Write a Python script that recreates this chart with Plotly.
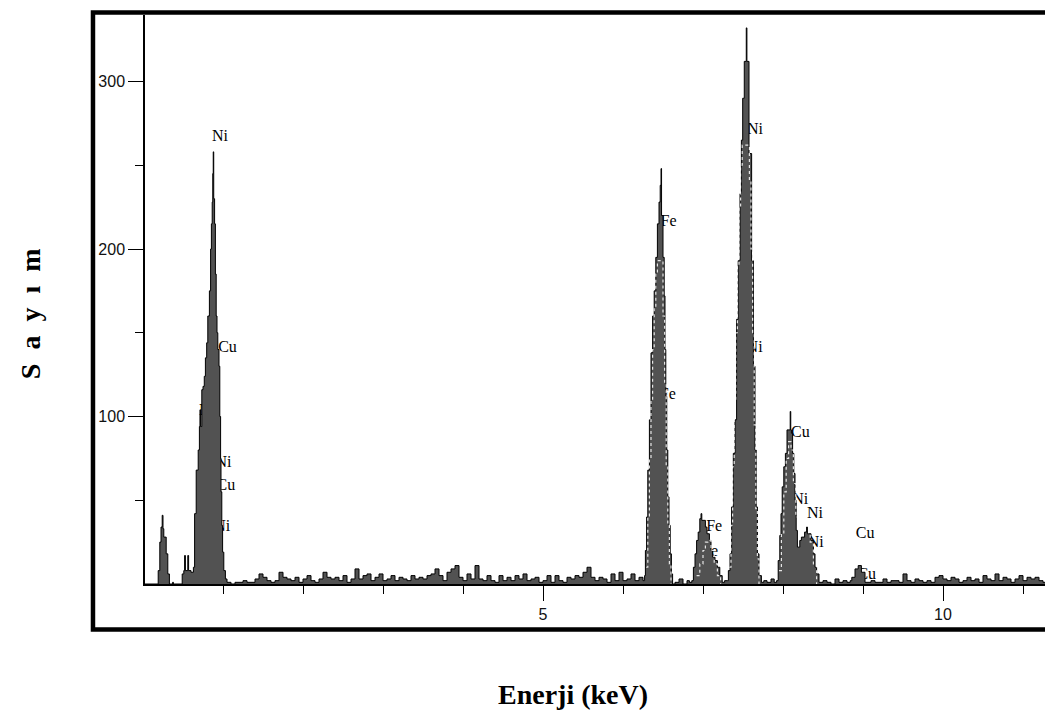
import plotly.graph_objects as go

# ---------------- data ----------------
# low-energy region: C peak + Ni L / Cu L peak  (energy keV, counts) step breakpoints
low_E = [0.00, 0.19, 0.21, 0.225, 0.24, 0.25, 0.26, 0.29, 0.31, 0.33, 0.37, 0.38,
         0.49, 0.51, 0.52, 0.53, 0.56, 0.57, 0.60, 0.63, 0.645, 0.665, 0.69, 0.705,
         0.712, 0.72, 0.735, 0.75, 0.766, 0.78, 0.796, 0.81, 0.83, 0.845, 0.855,
         0.865, 0.872, 0.878, 0.884, 0.895, 0.905, 0.915, 0.925, 0.935, 0.95, 0.96,
         0.97, 0.975, 0.985, 0.995, 1.01, 1.03]
low_counts = [0, 8, 25, 34, 41, 33, 28, 18, 6, 0, 1, 0,
              6, 8, 17, 8, 17, 8, 7, 10, 42, 68, 80, 94,
              104, 94, 116, 118, 124, 135, 144, 160, 175, 200, 215,
              228, 245, 258, 230, 215, 185, 160, 150, 140, 130, 100,
              75, 55, 35, 19, 8, 3]

# background between 1.05 and 6.20 keV, channels of 0.05 keV
noise1_start = 1.05
noise1_step = 0.05
noise1_counts = [1, 0, 1, 1, 2, 1, 1, 3, 6, 4,      # 1.05 - 1.50
                 2, 1, 2, 7, 4, 3, 2, 4, 1, 3,      # 1.55 - 2.00
                 5, 2, 1, 3, 7, 4, 3, 4, 2, 5,      # 2.05 - 2.50
                 1, 3, 9, 3, 5, 6, 2, 4, 6, 2,      # 2.55 - 3.00
                 3, 5, 2, 4, 3, 2, 5, 3, 4, 3,      # 3.05 - 3.50
                 5, 6, 9, 5, 2, 7, 9, 11, 4, 2,     # 3.55 - 4.00
                 6, 3, 11, 3, 2, 5, 2, 1, 5, 2,     # 4.05 - 4.50
                 4, 2, 5, 3, 6, 2, 3, 4, 1, 2,      # 4.55 - 5.00
                 5, 1, 5, 2, 1, 4, 3, 5, 4, 7,      # 5.05 - 5.50
                 10, 4, 2, 4, 3, 1, 6, 2, 7, 2,     # 5.55 - 6.00
                 3, 6, 2, 4]                        # 6.05 - 6.20

# Fe K-alpha
fe_E = [6.25, 6.27, 6.28, 6.295, 6.31, 6.33, 6.35, 6.37, 6.39, 6.41, 6.43, 6.45,
        6.465, 6.475, 6.482, 6.50, 6.515, 6.525, 6.535, 6.547, 6.56, 6.575, 6.59,
        6.605, 6.62, 6.65, 6.70, 6.75, 6.80, 6.83]
fe_counts = [2, 5, 20, 40, 68, 98, 138, 160, 175, 195, 215, 228,
             238, 248, 220, 195, 172, 140, 112, 80, 52, 35, 18,
             6, 0, 1, 3, 0, 2, 1]

# Fe K-beta
fekb_E = [6.86, 6.88, 6.90, 6.92, 6.94, 6.96, 6.975, 6.985, 7.00, 7.03, 7.05, 7.08,
          7.10, 7.12, 7.15, 7.18, 7.21, 7.24, 7.27]
fekb_counts = [2, 10, 18, 26, 31, 39, 42, 38, 38, 34, 30, 26,
               20, 16, 14, 10, 5, 1, 2]

# Ni K-alpha
ni_E = [7.31, 7.317, 7.3375, 7.358, 7.379, 7.40, 7.42, 7.44, 7.4625, 7.48, 7.496,
        7.516, 7.541, 7.549, 7.575, 7.608, 7.63, 7.65, 7.665, 7.68, 7.70, 7.73,
        7.76, 7.80, 7.85, 7.89]
ni_counts = [2, 8, 18, 46, 78, 98, 158, 193, 233, 265, 290,
             312, 332, 312, 257, 193, 130, 80, 46, 18, 5, 1,
             2, 1, 3, 1]

# Cu K-alpha + Ni K-beta
cu_E = [7.92, 7.94, 7.96, 7.975, 7.99, 8.01, 8.03, 8.05, 8.09, 8.097, 8.105, 8.12,
        8.135, 8.15, 8.165, 8.18, 8.21, 8.23, 8.27, 8.295, 8.305, 8.32, 8.35, 8.38,
        8.40, 8.42, 8.45, 8.50, 8.55, 8.60, 8.65, 8.70, 8.75, 8.80]
cu_counts = [2, 14, 29, 42, 58, 70, 78, 92, 103, 92, 90, 78,
             66, 50, 32, 22, 26, 28, 31, 34, 30, 30, 26, 18,
             10, 6, 1, 2, 1, 0, 3, 1, 2, 1]

# Cu K-beta
cukb_E = [8.84, 8.86, 8.90, 8.94, 8.98, 9.025]
cukb_counts = [2, 4, 9, 11, 7, 1]

# background from 9.05 keV, channels of 0.05 keV
noise2_start = 9.05
noise2_step = 0.05
noise2_counts = [1, 2, 1, 1, 3, 1, 2, 2, 1, 6,
                 2, 1, 3, 2, 1, 2, 1, 4, 5, 3,
                 2, 4, 3, 1, 2, 4, 2, 3, 1, 5,
                 3, 2, 6, 2, 4, 3, 1, 3, 5, 2,
                 4, 3, 4, 2, 1, 3]

# white dotted overlay spectrum (second acquisition) seen inside the peaks
ovl_fe_E = [6.29, 6.31, 6.33, 6.35, 6.37, 6.39, 6.41, 6.43, 6.50, 6.52, 6.54, 6.56, 6.58, 6.60]
ovl_fe_counts = [10, 40, 75, 110, 140, 165, 185, 193, 160, 120, 70, 35, 12, 0]
ovl_fekb_E = [6.92, 6.96, 7.00, 7.03, 7.06, 7.10, 7.14, 7.18, 7.22]
ovl_fekb_counts = [5, 12, 20, 25, 26, 20, 12, 5, 0]
ovl_ni_E = [7.33, 7.35, 7.37, 7.39, 7.41, 7.43, 7.45, 7.47, 7.49, 7.58, 7.60, 7.62,
            7.64, 7.66, 7.68, 7.70]
ovl_ni_counts = [10, 35, 70, 110, 150, 190, 225, 250, 262, 240, 200, 150,
                 95, 45, 15, 0]
ovl_cu_E = [7.95, 7.98, 8.01, 8.04, 8.07, 8.10, 8.13, 8.16, 8.19, 8.22, 8.26, 8.30,
            8.34, 8.38, 8.42]
ovl_cu_counts = [8, 30, 55, 75, 85, 80, 60, 40, 35, 40, 40, 35, 25, 12, 0]

# element labels (text, energy of label's left side, count level)
label_text = ["Ni", "Cu", "Ni", "Cu", "Ni", "Ni", "Fe", "Fe", "Ni", "Ni",
              "Fe", "Fe", "Cu", "Ni", "Ni", "Ni", "Cu", "Cu"]
label_E = [0.8625, 0.94, 0.905, 0.92, 0.89, 0.70, 6.47, 6.46, 7.55, 7.545,
           7.04, 6.99, 8.10, 8.115, 8.30, 8.31, 8.91, 8.93]
label_count = [267, 141, 72, 58.5, 34, 103, 216, 113, 271, 141,
               34, 19, 90, 50, 42, 24.5, 30, 5.5]

x_tickvals = [5, 10]
x_minor = [1, 2, 3, 4, 6, 7, 8, 9, 11]
y_tickvals = [100, 200, 300]
y_minor = [50, 150, 250]

# ---------------- assemble spectrum ----------------
E = []
C = []
E += low_E; C += low_counts
E += [noise1_start + i * noise1_step for i in range(len(noise1_counts))]; C += noise1_counts
E += fe_E; C += fe_counts
E += fekb_E; C += fekb_counts
E += ni_E; C += ni_counts
E += cu_E; C += cu_counts
E += cukb_E; C += cukb_counts
E += [noise2_start + i * noise2_step for i in range(len(noise2_counts))]; C += noise2_counts

fig = go.Figure()

# labels first so that the filled spectrum hides parts of them
fig.add_trace(go.Scatter(
    x=label_E, y=label_count, mode="text", text=label_text,
    textposition="middle right",
    textfont=dict(family="Liberation Serif", size=16, color="black"),
    hoverinfo="skip", showlegend=False))

fig.add_trace(go.Scatter(
    x=E, y=C, mode="lines",
    line=dict(shape="hv", color="black", width=1),
    fill="tozeroy", fillcolor="#525252",
    hoverinfo="x+y", showlegend=False))

for ox, oy in [(ovl_fe_E, ovl_fe_counts), (ovl_fekb_E, ovl_fekb_counts),
               (ovl_ni_E, ovl_ni_counts), (ovl_cu_E, ovl_cu_counts)]:
    fig.add_trace(go.Scatter(
        x=ox, y=oy, mode="lines",
        line=dict(shape="hv", color="rgba(255,255,255,0.85)", width=1.2, dash="dot"),
        hoverinfo="skip", showlegend=False))

tickfont = dict(family="Liberation Sans", size=16, color="#111111")

fig.update_layout(
    width=1045, height=711,
    margin=dict(l=145, r=0, t=15, b=127),
    paper_bgcolor="white", plot_bgcolor="white",
    xaxis=dict(range=[0.025, 11.275], showline=True, linecolor="black", linewidth=1.5,
               showgrid=False, zeroline=False,
               tickmode="array", tickvals=x_tickvals, ticks="outside", ticklen=15,
               tickwidth=1, tickcolor="black", tickfont=tickfont,
               minor=dict(tickmode="array", tickvals=x_minor, ticks="outside",
                          ticklen=8, tickwidth=1, tickcolor="black")),
    yaxis=dict(range=[0, 339.7], showline=True, linecolor="black", linewidth=1.5,
               showgrid=False, zeroline=False,
               tickmode="array", tickvals=y_tickvals, ticks="outside", ticklen=15,
               tickwidth=1, tickcolor="black", tickfont=tickfont,
               minor=dict(tickmode="array", tickvals=y_minor, ticks="outside",
                          ticklen=8, tickwidth=1, tickcolor="black")),
    shapes=[dict(type="rect", xref="paper", yref="paper",
                 x0=-0.0578, x1=1.06, y0=-0.080, y1=1.0044,
                 line=dict(color="black", width=4.5), fillcolor="rgba(0,0,0,0)")],
    annotations=[
        dict(text="<b>Enerji (keV)</b>", xref="paper", yref="paper",
             x=0.4756, y=-0.195, showarrow=False, xanchor="center", yanchor="middle",
             font=dict(family="Liberation Serif", size=28, color="black")),
        dict(text="<b>S\u2002a\u2002y\u2002ı\u2002m</b>", xref="paper", yref="paper",
             x=-0.1278, y=0.476, showarrow=False, xanchor="center", yanchor="middle",
             textangle=-90,
             font=dict(family="Liberation Serif", size=28, color="black")),
    ],
)

fig.write_html("out.html")
